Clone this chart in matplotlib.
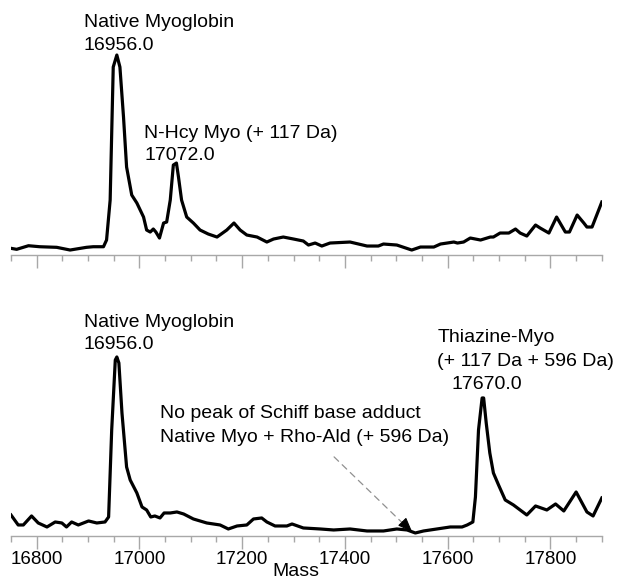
import matplotlib
matplotlib.use("Agg")
import matplotlib.pyplot as plt
from matplotlib.ticker import MultipleLocator

plt.rcParams["font.family"] = ["Liberation Sans", "DejaVu Sans"]

# top spectrum: native myoglobin + N-Hcy myoglobin
top_mass = [16750, 16761, 16784, 16806, 16839, 16865, 16897, 16910, 16930, 16936,
            16943, 16949, 16956, 16962, 16969, 16975, 16985, 16995, 17008, 17014,
            17021, 17027, 17032, 17039, 17047, 17053, 17060, 17066, 17072, 17076,
            17082, 17092, 17105, 17118, 17134, 17151, 17170, 17184, 17196, 17209,
            17229, 17248, 17261, 17280, 17300, 17319, 17329, 17342, 17355, 17371,
            17410, 17443, 17465, 17475, 17501, 17530, 17547, 17573, 17586, 17599,
            17612, 17619, 17631, 17644, 17664, 17683, 17689, 17702, 17719, 17732,
            17741, 17754, 17771, 17780, 17797, 17812, 17829, 17837, 17852, 17865,
            17871, 17881, 17900]
top_int = [6.7, 5.7, 9.3, 8.3, 7.7, 5, 7.7, 8.3, 8.3, 15,
           55, 188, 200, 188, 138, 88, 60, 52, 38, 25,
           23, 26, 23, 17, 32, 33, 55, 90, 92, 78,
           55, 38, 32, 25, 21, 18, 25, 32, 25, 20,
           18, 13, 16, 18, 16, 14, 10, 12, 9, 12,
           13, 9, 9, 11, 10, 5, 8, 8, 11, 12,
           13, 12, 13, 17, 15, 18, 18, 22, 22, 26,
           22, 19, 30, 27, 22, 38, 23, 23, 40, 32,
           28, 28, 53]

# bottom spectrum: native myoglobin + thiazine adduct
bot_mass = [16750, 16764, 16774, 16790, 16803, 16820, 16836, 16849, 16858, 16868,
            16881, 16901, 16917, 16933, 16940, 16946, 16953, 16956, 16960, 16966,
            16975, 16982, 16995, 17005, 17014, 17022, 17030, 17040, 17048, 17060,
            17073, 17086, 17105, 17131, 17157, 17173, 17190, 17209, 17222, 17238,
            17248, 17264, 17287, 17297, 17319, 17352, 17378, 17410, 17443, 17475,
            17501, 17521, 17537, 17553, 17579, 17605, 17628, 17638, 17649, 17654,
            17660, 17667, 17670, 17675, 17682, 17689, 17699, 17712, 17728, 17741,
            17754, 17771, 17793, 17810, 17826, 17850, 17871, 17883, 17900]
bot_int = [21, 11, 11, 20, 13, 9, 14, 13, 9, 14,
           11, 15, 13, 14, 19, 106, 176, 179, 173, 123,
           69, 56, 43, 29, 26, 19, 20, 18, 23, 23,
           24, 22, 17, 13, 11, 7, 10, 11, 17, 18,
           14, 10, 10, 12, 8, 7, 6, 7, 5, 5,
           7, 6, 3, 5, 7, 9, 9, 11, 14, 39,
           106, 138, 138, 113, 83, 63, 51, 36, 31, 26,
           21, 30, 26, 32, 25, 44, 24, 20, 38]

xticks = [16800, 17000, 17200, 17400, 17600, 17800]

fig = plt.figure(figsize=(6.18, 5.8), dpi=100)
ax_top = fig.add_axes([0.0178, 0.5603, 0.956, 0.3707])
ax_bot = fig.add_axes([0.0178, 0.0759, 0.956, 0.3707])

for ax, m, y in [(ax_top, top_mass, top_int), (ax_bot, bot_mass, bot_int)]:
    ax.plot(m, y, color="black", lw=2.3, solid_joinstyle="round")
    ax.set_xlim(16750, 17900)
    ax.set_ylim(0, 215)
    for s in ["top", "left", "right"]:
        ax.spines[s].set_visible(False)
    ax.spines["bottom"].set_color("#a8a8a8")
    ax.spines["bottom"].set_linewidth(1.0)
    ax.set_yticks([])
    ax.set_xticks(xticks)
    ax.xaxis.set_minor_locator(MultipleLocator(50))
    ax.tick_params(axis="x", which="major", length=9, width=1, color="#a8a8a8",
                   labelsize=13.5, pad=2)
    ax.tick_params(axis="x", which="minor", length=4, width=1, color="#a8a8a8")

ax_top.tick_params(axis="x", labelbottom=False)

fs = 14
ax_top.text(16892, 233, "Native Myoglobin", fontsize=fs, va="center")
ax_top.text(16892, 210, "16956.0", fontsize=fs, va="center")
ax_top.text(17009, 122, "N-Hcy Myo (+ 117 Da)", fontsize=fs, va="center")
ax_top.text(17009, 100, "17072.0", fontsize=fs, va="center")

ax_bot.text(16892, 213, "Native Myoglobin", fontsize=fs, va="center")
ax_bot.text(16892, 191, "16956.0", fontsize=fs, va="center")
ax_bot.text(17040, 122, "No peak of Schiff base adduct", fontsize=fs, va="center")
ax_bot.text(17040, 98, "Native Myo + Rho-Ald (+ 596 Da)", fontsize=fs, va="center")
ax_bot.text(17580, 198, "Thiazine-Myo", fontsize=fs, va="center")
ax_bot.text(17579, 174, "(+ 117 Da + 596 Da)", fontsize=fs, va="center")
ax_bot.text(17608, 151, "17670.0", fontsize=fs, va="center")

# dashed pointer to where the Schiff base adduct would be
ax_bot.annotate("", xy=(17514, 12), xytext=(17375, 81),
                arrowprops=dict(arrowstyle="-", ls=(0, (5, 4)), color="#909090", lw=0.9))
ax_bot.annotate("", xy=(17531, 4), xytext=(17512, 14),
                arrowprops=dict(arrowstyle="-|>,head_length=0.9,head_width=0.35",
                                color="black", lw=0.8, shrinkA=0, shrinkB=0))

fig.text(296 / 618, 1 - 572 / 580, "Mass", fontsize=fs, ha="center", va="center")

fig.savefig("out.png", dpi=100)
